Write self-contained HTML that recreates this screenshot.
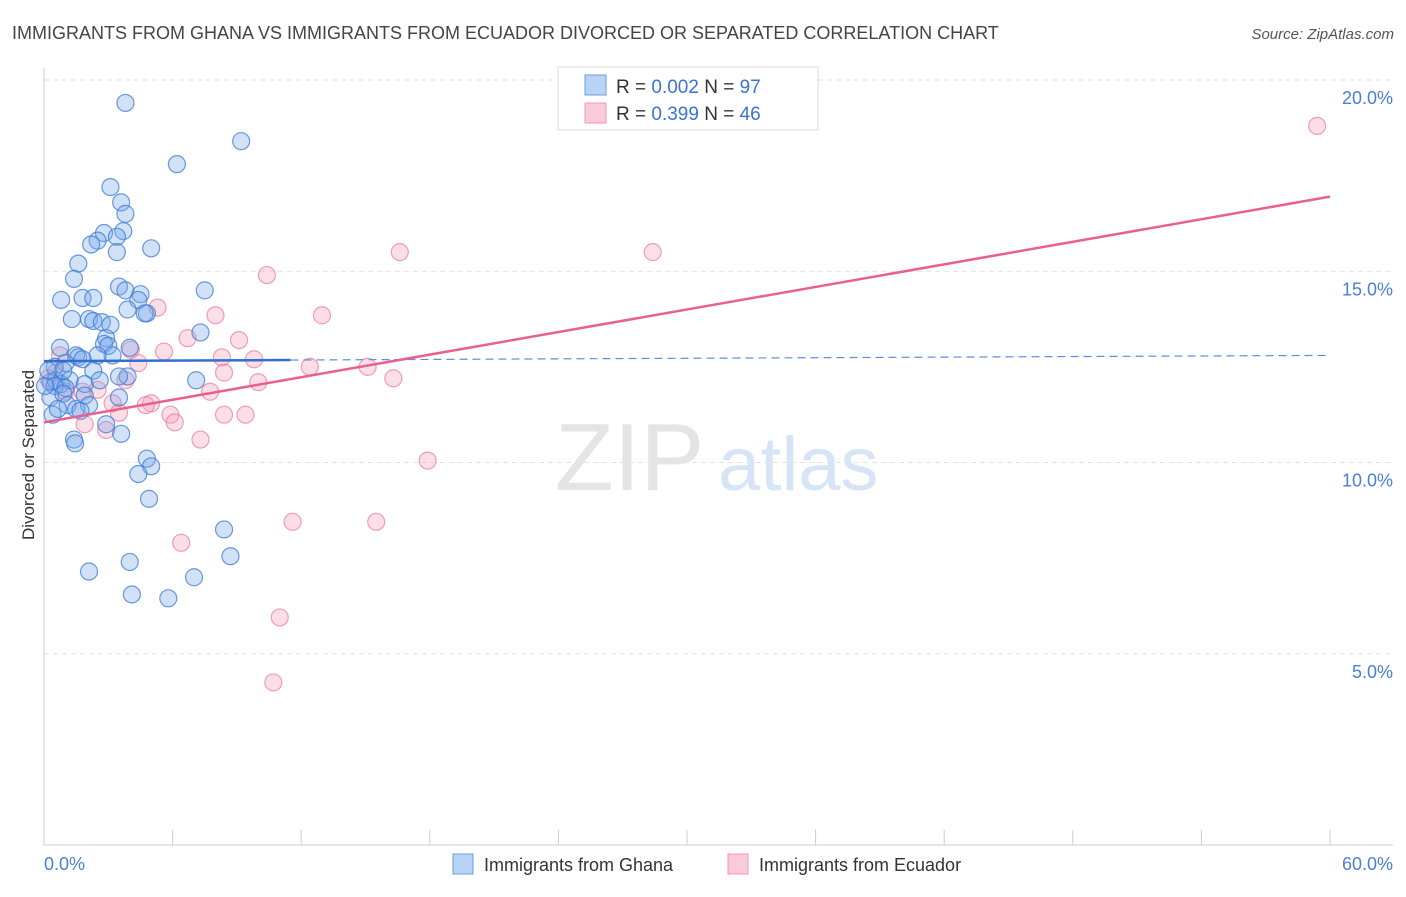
<!DOCTYPE html>
<html><head><meta charset="utf-8"><style>
body{margin:0;background:#fff;font-family:"Liberation Sans",sans-serif}
svg text{font-family:"Liberation Sans",sans-serif}
</style></head><body>
<svg id="chart" width="1406" height="892" xmlns="http://www.w3.org/2000/svg">
<text x="12" y="39" font-size="18" fill="#444">IMMIGRANTS FROM GHANA VS IMMIGRANTS FROM ECUADOR DIVORCED OR SEPARATED CORRELATION CHART</text>
<text x="1394" y="39" font-size="15" fill="#555" font-style="italic" text-anchor="end">Source: ZipAtlas.com</text>
<g id="grid"></g>
<g><text x="555" y="490" font-size="96" fill="#e4e4e4" font-family="Liberation Serif">ZIP</text><text x="718" y="490" font-size="76" fill="#d6e4f5">atlas</text></g>
<line x1="44" y1="68" x2="44" y2="845" stroke="#ccc"/>
<line x1="44" y1="845" x2="1393" y2="845" stroke="#ccc"/>
<text transform="translate(34,455) rotate(-90)" font-size="17" fill="#333" text-anchor="middle">Divorced or Separated</text>
<text x="44" y="870" font-size="18" fill="#4a7fd4">0.0%</text>
<text x="1393" y="870" font-size="18" fill="#4a7fd4" text-anchor="end">60.0%</text>
<g id="pts"></g>
<g id="trends"></g>
<g>
<rect x="558" y="67" width="260" height="63" fill="#fff" stroke="#ddd"/>
<rect x="585" y="75" width="21" height="20" fill="#b8d3f5" stroke="#6a9de0"/>
<rect x="585" y="103" width="21" height="20" fill="#f9cad8" stroke="#ee98b4"/>
<text x="616" y="93" font-size="19" fill="#333">R = <tspan fill="#3a74d0">0.002</tspan>   N = <tspan fill="#3a74d0">97</tspan></text>
<text x="616" y="120" font-size="19" fill="#333">R = <tspan fill="#3a74d0"> 0.399</tspan>   N = <tspan fill="#3a74d0">46</tspan></text>
</g>
<g><rect x="453" y="854" width="20" height="20" fill="#b8d3f5" stroke="#6a9de0"/><text x="484" y="871" font-size="18" fill="#333">Immigrants from Ghana</text></g>
<g><rect x="728" y="854" width="20" height="20" fill="#f9cad8" stroke="#ee98b4"/><text x="759" y="871" font-size="18" fill="#333">Immigrants from Ecuador</text></g>
</svg>
<script>
const yTicks=[5,10,15,20];
const xTicks=[0,6,12,18,24,30,36,42,48,54,60];
const ghanaX=[3.8,9.2,6.2,3.1,3.6,3.8,2.8,3.7,3.4,2.5,2.2,5.0,3.4,1.6,1.4,3.5,7.5,3.8,4.5,4.4,0.8,1.8,2.3,3.9,4.8,4.7,1.3,2.1,2.3,2.7,3.1,7.3,2.9,2.8,3.0,4.0,0.75,1.5,1.6,3.2,2.5,1.0,1.8,0.5,2.3,3.9,3.5,7.1,0.3,0.55,0.8,1.2,0.5,1.0,1.9,2.6,1.9,3.5,0.3,0.9,1.1,2.1,1.5,1.7,0.4,2.9,3.6,1.4,1.45,4.8,5.0,4.4,4.9,8.4,8.7,2.1,4.0,7.0,4.1,5.8,0.05,0.2,0.65,0.9];
const ghanaY=[19.4,18.4,17.8,17.2,16.8,16.5,16.0,16.05,15.9,15.8,15.7,15.6,15.5,15.2,14.8,14.6,14.5,14.5,14.4,14.25,14.25,14.3,14.3,14.0,13.9,13.9,13.75,13.75,13.7,13.67,13.6,13.4,13.25,13.1,13.05,13.0,13.0,12.8,12.75,12.8,12.8,12.6,12.7,12.5,12.4,12.25,12.25,12.15,12.1,12.15,12.05,12.15,12.0,11.95,12.05,12.15,11.75,11.7,11.7,11.8,11.5,11.5,11.4,11.35,11.25,11.0,10.75,10.6,10.5,10.1,9.9,9.7,9.05,8.25,7.55,7.15,7.4,7.0,6.55,6.45,12.0,12.4,11.4,12.4];
const ecuadorX=[59.4,16.6,28.4,10.4,12.97,5.3,8.0,6.7,9.1,5.6,4.05,8.3,9.8,4.4,12.4,15.1,8.4,16.3,10.0,3.8,0.75,2.5,7.75,3.2,5.0,4.75,3.5,8.4,9.4,5.9,6.1,1.9,2.9,7.3,17.9,1.0,0.55,11.6,15.5,6.4,11.0,10.7,1.8,0.2];
const ecuadorY=[18.8,15.5,15.5,14.9,13.85,14.05,13.85,13.25,13.2,12.9,12.95,12.75,12.7,12.6,12.5,12.5,12.35,12.2,12.1,12.15,12.8,11.9,11.85,11.55,11.55,11.5,11.3,11.25,11.25,11.25,11.05,11.0,10.85,10.6,10.05,11.85,12.35,8.45,8.45,7.9,5.95,4.25,11.85,12.2];
const ghanaTrend=[12.65,12.8];
const ecuadorTrend=[11.05,16.95];
const NS='http://www.w3.org/2000/svg';
const sx=v=>44+v*(1286/60);
const sy=v=>845-v*38.25;
function mk(t,a,p){const e=document.createElementNS(NS,t);for(const k in a)e.setAttribute(k,a[k]);p.appendChild(e);return e;}
const grid=document.getElementById('grid');
yTicks.forEach(t=>{
 const l=mk('line',{x1:44,x2:1393,y1:sy(t),y2:sy(t),stroke:'#e2e2e2','stroke-dasharray':'5,4'},grid);
 
 
 const tx=mk('text',{x:1393,y:sy(t)+24,'font-size':18,fill:'#4a7fd4','text-anchor':'end'},grid);
 tx.textContent=t.toFixed(1)+'%';
 
 
});
xTicks.forEach(t=>{
 const l=mk('line',{x1:sx(t),x2:sx(t),y1:830,y2:845,stroke:'#ccc'},grid);
 
 
});
const pts=document.getElementById('pts');
ecuadorX.forEach((x,i)=>{
 const c=mk('circle',{cx:sx(x),cy:sy(ecuadorY[i]),r:8.5,fill:'rgba(245,160,185,0.35)',stroke:'rgba(232,120,160,0.7)','stroke-width':1.2},pts);
 
 
});
ghanaX.forEach((x,i)=>{
 const c=mk('circle',{cx:sx(x),cy:sy(ghanaY[i]),r:8.5,fill:'rgba(120,170,235,0.35)',stroke:'rgba(60,120,210,0.75)','stroke-width':1.2},pts);
 
 
});
const tr=document.getElementById('trends');
const gy=x=>ghanaTrend[0]+(ghanaTrend[1]-ghanaTrend[0])*x/60;
const g1=mk('line',{x1:sx(0),y1:sy(gy(0)),x2:sx(11.5),y2:sy(gy(11.5)),stroke:'#2f6fd0','stroke-width':2.5},tr);


const g2=mk('line',{x1:sx(11.5),y1:sy(gy(11.5)),x2:sx(60),y2:sy(gy(60)),stroke:'#5b8fd8','stroke-width':1.2,'stroke-dasharray':'8,5'},tr);


const e1=mk('line',{x1:sx(0),y1:sy(ecuadorTrend[0]),x2:sx(60),y2:sy(ecuadorTrend[1]),stroke:'#e8608e','stroke-width':2.5},tr);


</script>
</body></html>
